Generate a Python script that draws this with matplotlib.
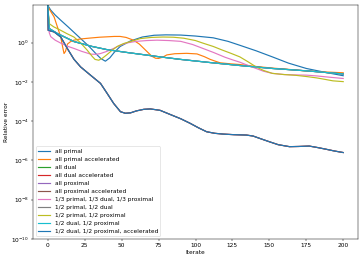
import numpy as np
import matplotlib
matplotlib.use("Agg")
import matplotlib.pyplot as plt
from matplotlib.ticker import NullLocator

s = 0.42
plt.rcParams.update({
    "font.size": 10 * s,
    "lines.linewidth": 0.85,
    "axes.linewidth": 0.8 * s,
    "xtick.major.size": 3.5 * s,
    "ytick.major.size": 3.5 * s,
    "xtick.major.width": 0.8 * s,
    "ytick.major.width": 0.8 * s,
    "xtick.major.pad": 3.5 * s,
    "ytick.major.pad": 3.5 * s,
    "legend.fontsize": 10 * s,
    "patch.linewidth": 1.0 * s,
})

labels = [
    "all primal", "all primal accelerated", "all dual", "all dual accelerated",
    "all proximal", "all proximal accelerated",
    "1/3 primal, 1/3 dual, 1/3 proximal", "1/2 primal, 1/2 dual",
    "1/2 primal, 1/2 proximal", "1/2 dual, 1/2 proximal",
    "1/2 dual, 1/2 proximal, accelerated",
]
colors = ["#1f77b4", "#ff7f0e", "#2ca02c", "#d62728", "#9467bd", "#8c564b",
          "#e377c2", "#7f7f7f", "#bcbd22", "#17becf", "#1f77b4"]

# iterate positions and log10(relative error)
primal_it = [0, 2, 5, 9, 14, 18, 23, 28, 33, 36, 39, 42, 45, 49, 56, 64, 72, 80, 90, 100, 112, 122, 130, 141, 152, 163, 175, 188, 200]
primal_lg = [1.89, 1.65, 1.4, 1.12, 0.78, 0.5, 0.15, -0.2, -0.6, -0.82, -0.95, -0.78, -0.5, -0.2, 0.08, 0.28, 0.37, 0.39, 0.38, 0.33, 0.24, 0.06, -0.14, -0.42, -0.73, -1.05, -1.32, -1.52, -1.69]

paccel_it = [0, 2, 4.3, 6.5, 8.8, 10, 11, 12, 13.3, 15.5, 17.7, 22, 29, 35, 40, 45, 49, 53, 58, 62, 65, 68, 70.5, 73, 75, 78, 80.6, 86, 94, 101, 106, 110, 116.5, 123, 130, 141, 152, 163.6, 175, 188, 200]
paccel_lg = [1.84, 1.58, 1.3, 0.8, 0.28, -0.2, -0.56, -0.45, -0.08, 0.05, 0.12, 0.18, 0.23, 0.27, 0.29, 0.31, 0.31, 0.26, 0.12, -0.08, -0.3, -0.52, -0.7, -0.8, -0.81, -0.74, -0.63, -0.57, -0.55, -0.58, -0.72, -0.86, -1.03, -1.08, -1.12, -1.22, -1.3, -1.37, -1.45, -1.5, -1.54]

# hidden series: drawn underneath the visible curves they coincide with
dual_it = [0, 1, 6.5, 17.7, 30, 40, 53, 65, 76, 90, 110, 130, 152, 175, 200]
dual_lg = [1.9, 0.71, 0.46, 0.05, -0.2, -0.36, -0.5, -0.62, -0.73, -0.86, -1.02, -1.17, -1.32, -1.44, -1.6]

daccel_it = [0, 0.3, 4.3, 8.8, 13.2, 17.7, 22.2, 28.9, 35.7, 40.2, 44.6, 49.2, 52.5, 56, 60, 65, 69.4, 76, 82.8, 90, 96.3, 102, 107.5, 113, 118.7, 126, 134.5, 139, 145, 150, 156, 163.6, 170, 177, 183, 188.3, 194, 200]
daccel_lg = [1.9, 0.62, 0.54, 0.28, -0.3, -0.85, -1.24, -1.66, -2.08, -2.59, -3.1, -3.52, -3.6, -3.58, -3.48, -3.4, -3.38, -3.45, -3.66, -3.88, -4.11, -4.34, -4.54, -4.62, -4.66, -4.69, -4.71, -4.76, -4.92, -5.05, -5.2, -5.3, -5.29, -5.27, -5.35, -5.43, -5.52, -5.6]

prox_it = [0, 1, 6.5, 17.7, 30, 40, 53, 65, 76, 90, 110, 130, 152, 175, 200]
prox_lg = [1.9, 0.71, 0.46, 0.05, -0.2, -0.36, -0.5, -0.62, -0.73, -0.86, -1.02, -1.17, -1.32, -1.44, -1.6]

xaccel_it = [0, 0.3, 4.3, 8.8, 13.2, 17.7, 22.2, 28.9, 35.7, 40.2, 44.6, 49.2, 52.5, 56, 60, 65, 69.4, 76, 82.8, 90, 96.3, 102, 107.5, 113, 118.7, 126, 134.5, 139, 145, 150, 156, 163.6, 170, 177, 183, 188.3, 194, 200]
xaccel_lg = [1.9, 0.62, 0.54, 0.28, -0.3, -0.85, -1.24, -1.66, -2.08, -2.59, -3.1, -3.52, -3.6, -3.58, -3.48, -3.4, -3.38, -3.45, -3.66, -3.88, -4.11, -4.34, -4.54, -4.62, -4.66, -4.69, -4.71, -4.76, -4.92, -5.05, -5.2, -5.3, -5.29, -5.27, -5.35, -5.43, -5.52, -5.6]

third_it = [0, 1, 2, 5, 8.8, 13, 17.7, 23, 29, 33, 35.7, 40, 44.6, 49, 53.6, 60, 67, 74, 82, 90, 98, 105, 112, 120, 125, 130, 136, 141, 146, 152, 160, 168, 175, 182, 190, 200]
third_lg = [1.9, 0.5, 0.3, 0.12, -0.03, -0.18, -0.3, -0.45, -0.59, -0.6, -0.56, -0.45, -0.3, -0.14, -0.02, 0.06, 0.1, 0.12, 0.1, 0.06, -0.1, -0.3, -0.5, -0.75, -0.88, -1.0, -1.18, -1.32, -1.46, -1.57, -1.63, -1.65, -1.66, -1.7, -1.76, -1.83]

pd_it = [0, 1, 6.5, 17.7, 30, 40, 53, 65, 76, 90, 110, 130, 152, 175, 200]
pd_lg = [1.9, 0.71, 0.46, 0.05, -0.2, -0.36, -0.5, -0.62, -0.73, -0.86, -1.02, -1.17, -1.32, -1.44, -1.6]

pp_it = [0, 1, 4, 8.8, 13, 17.7, 22, 26.7, 30, 32, 34.5, 36.8, 40, 43.6, 47, 51.4, 56, 62.6, 70, 78, 85, 92, 100, 105, 112, 118, 124, 130, 136, 141, 146, 152, 160, 168, 175, 182, 188, 193, 200]
pp_lg = [1.9, 0.96, 0.8, 0.62, 0.45, 0.28, 0.0, -0.39, -0.7, -0.86, -0.9, -0.81, -0.62, -0.39, -0.2, -0.05, 0.05, 0.2, 0.26, 0.28, 0.27, 0.22, 0.1, -0.03, -0.2, -0.38, -0.55, -0.73, -1.0, -1.24, -1.42, -1.57, -1.63, -1.67, -1.73, -1.8, -1.88, -1.95, -1.99]

dp_it = [0, 1, 6.5, 17.7, 30, 40, 53, 65, 76, 90, 110, 130, 152, 175, 200]
dp_lg = [1.9, 0.71, 0.46, 0.05, -0.2, -0.36, -0.5, -0.62, -0.73, -0.86, -1.02, -1.17, -1.32, -1.44, -1.6]

dpa_it = [0, 0.3, 4.3, 8.8, 13.2, 17.7, 22.2, 28.9, 35.7, 40.2, 44.6, 49.2, 52.5, 56, 60, 65, 69.4, 76, 82.8, 90, 96.3, 102, 107.5, 113, 118.7, 126, 134.5, 139, 145, 150, 156, 163.6, 170, 177, 183, 188.3, 194, 200]
dpa_lg = [1.9, 0.62, 0.54, 0.28, -0.3, -0.85, -1.24, -1.66, -2.08, -2.59, -3.1, -3.52, -3.6, -3.58, -3.48, -3.4, -3.38, -3.45, -3.66, -3.88, -4.11, -4.34, -4.54, -4.62, -4.66, -4.69, -4.71, -4.76, -4.92, -5.05, -5.2, -5.3, -5.29, -5.27, -5.35, -5.43, -5.52, -5.6]

series = [
    (primal_it, primal_lg), (paccel_it, paccel_lg), (dual_it, dual_lg),
    (daccel_it, daccel_lg), (prox_it, prox_lg), (xaccel_it, xaccel_lg),
    (third_it, third_lg), (pd_it, pd_lg), (pp_it, pp_lg), (dp_it, dp_lg),
    (dpa_it, dpa_lg),
]

fig = plt.figure(figsize=(3.63, 2.62), dpi=100)
ax = fig.add_axes([33 / 363, 1 - 239 / 262, 325 / 363, 234 / 262])
for (it, lg), lab, col in zip(series, labels, colors):
    ax.plot(it, 10.0 ** np.array(lg, dtype=float), label=lab, color=col)

ax.set_yscale("log")
ax.set_ylim(1e-10, 10 ** 1.91)
ax.set_xlim(-10, 210)
ax.set_yticks([1e0, 1e-2, 1e-4, 1e-6, 1e-8, 1e-10])
ax.yaxis.set_minor_locator(NullLocator())
ax.set_xticks([0, 25, 50, 75, 100, 125, 150, 175, 200])
ax.set_xlabel("Iterate", labelpad=1.5)
ax.set_ylabel("Relative error", labelpad=1.5)
ax.legend(loc="lower left")
fig.savefig("out.png", dpi=100)
